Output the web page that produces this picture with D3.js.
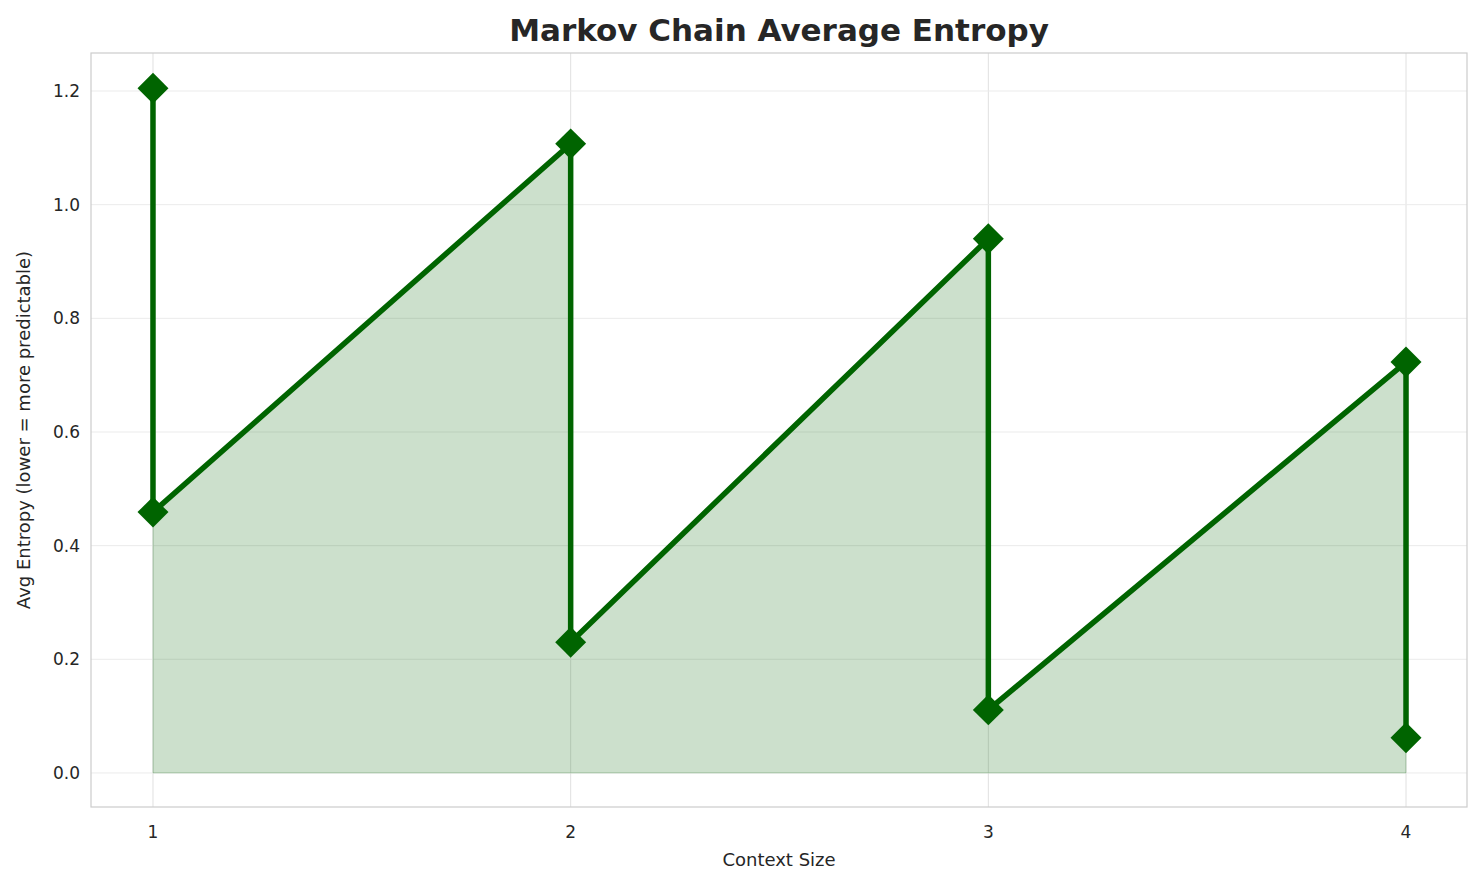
<!DOCTYPE html>
<html><head><meta charset="utf-8">
<script src="https://cdn.jsdelivr.net/npm/d3@7"></script>
<style>body{margin:0;background:#fff}svg{font-family:"DejaVu Sans",sans-serif}</style>
</head><body><svg id="c" width="1484" height="885"></svg>
<script>
const contextSizes=[1,1,2,2,3,3,4,4];
const entropies=[1.205,0.459,1.107,0.230,0.940,0.111,0.723,0.062];
const xTicks=[1,2,3,4];
const yTicks=[0,0.2,0.4,0.6,0.8,1.0,1.2];
const data=contextSizes.map((c,i)=>({x:c,y:entropies[i]}));
const svg=d3.select("#c");
const L=91,R=1467,T=53,B=807;
const x=d3.scaleLinear().domain([0.8516,4.146]).range([L,R]);
const y=d3.scaleLinear().domain([-0.0599,1.2669]).range([B,T]);
const g=svg.append("g");
g.selectAll(".gx").data(xTicks).join("line").attr("x1",d=>x(d)).attr("x2",d=>x(d)).attr("y1",T).attr("y2",B).attr("stroke","#e0e0e0");
g.selectAll(".gy").data(yTicks).join("line").attr("y1",d=>y(d)).attr("y2",d=>y(d)).attr("x1",L).attr("x2",R).attr("stroke","#ebebeb");
svg.append("path").datum(data).attr("d",d3.area().x(d=>x(d.x)).y0(y(0)).y1(d=>y(d.y))).attr("fill","#006400").attr("fill-opacity",0.2).attr("stroke","#006400").attr("stroke-opacity",0.2);
svg.append("path").datum(data).attr("d",d3.line().x(d=>x(d.x)).y(d=>y(d.y))).attr("fill","none").attr("stroke","#006400").attr("stroke-width",5.5);
svg.selectAll(".m").data(data).join("path").attr("d",d3.symbol(d3.symbolSquare,480)).attr("transform",d=>`translate(${x(d.x)},${y(d.y)}) rotate(45)`).attr("fill","#006400");
svg.append("rect").attr("x",L).attr("y",T).attr("width",R-L).attr("height",B-T).attr("fill","none").attr("stroke","#ccc").attr("stroke-width",1.2);
svg.selectAll(".xt").data(xTicks).join("text").attr("x",d=>x(d)).attr("y",838).attr("text-anchor","middle").attr("font-size",17).attr("fill","#262626").text(d=>d);
svg.selectAll(".yt").data(yTicks).join("text").attr("x",80).attr("y",d=>y(d)+6).attr("text-anchor","end").attr("font-size",17).attr("fill","#262626").text(d=>d.toFixed(1));
svg.append("text").attr("x",(L+R)/2).attr("y",866).attr("text-anchor","middle").attr("font-size",18).attr("fill","#262626").text("Context Size");
svg.append("text").attr("transform",`translate(30,${(T+B)/2}) rotate(-90)`).attr("text-anchor","middle").attr("font-size",18).attr("fill","#262626").text("Avg Entropy (lower = more predictable)");
svg.append("text").attr("x",(L+R)/2).attr("y",41).attr("text-anchor","middle").attr("font-size",31).attr("font-weight","bold").attr("fill","#262626").text("Markov Chain Average Entropy");
</script></body></html>
